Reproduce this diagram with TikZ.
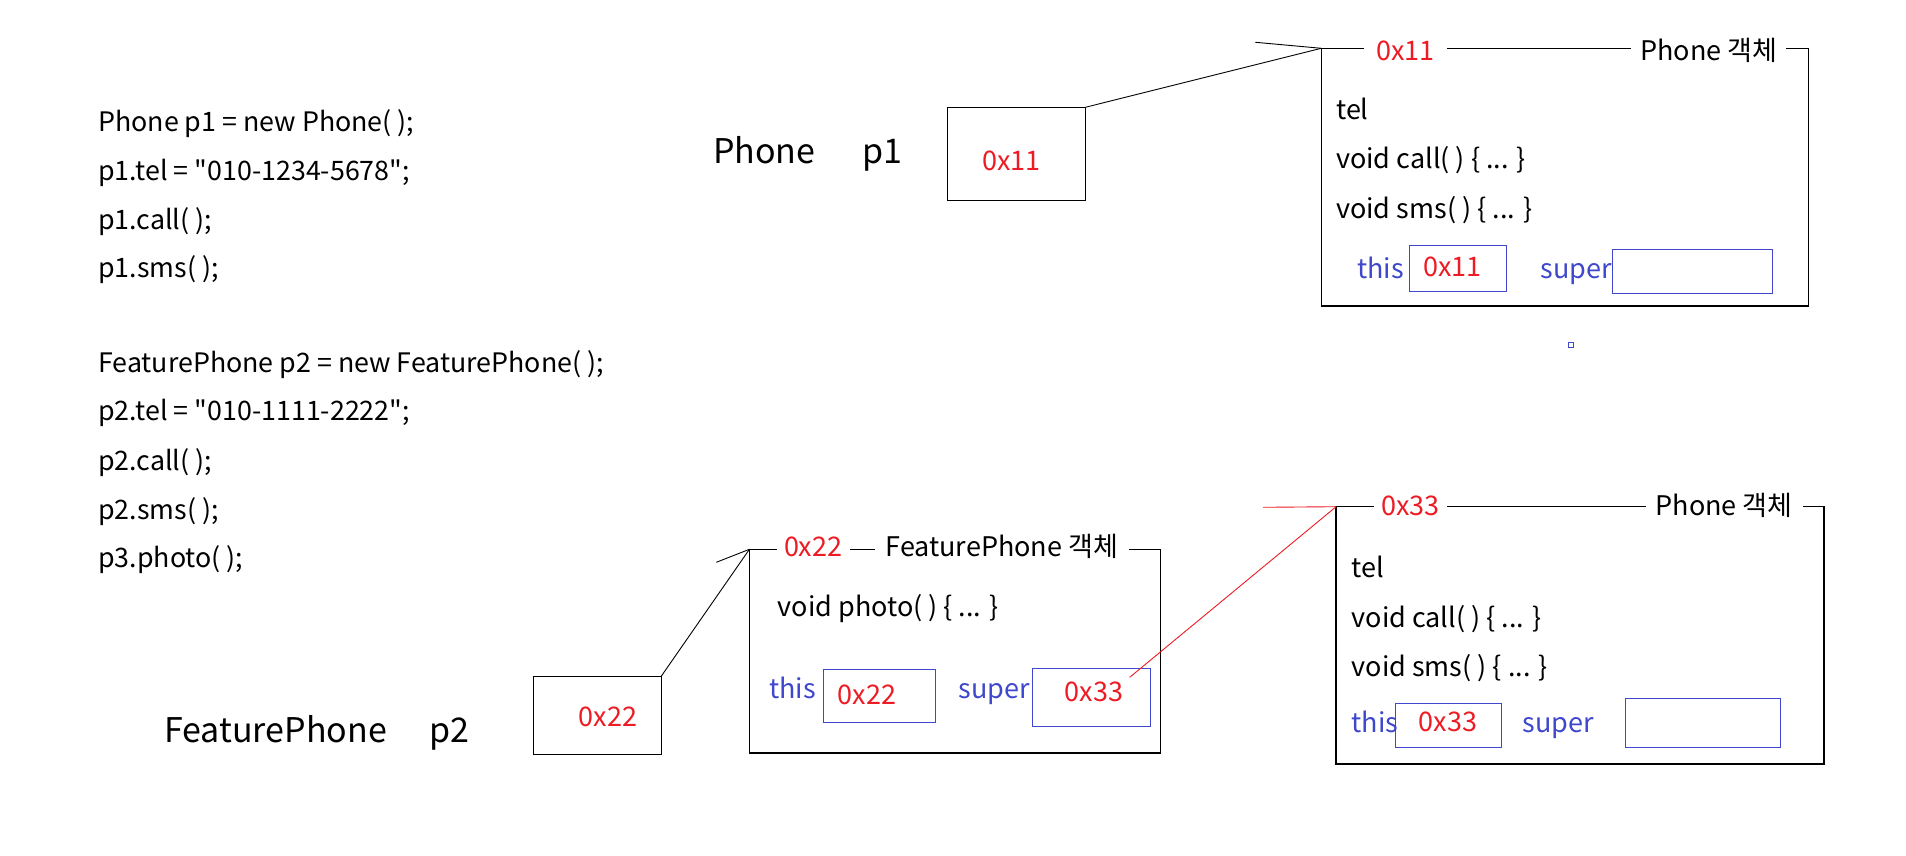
\documentclass[tikz,border=0pt]{standalone}
\usepackage{fontspec}
\setmainfont{Noto Sans CJK KR}[Ligatures=TeXOff]
\definecolor{pred}{HTML}{ED1C24}
\definecolor{pblue}{HTML}{3F48CC}
\begin{document}
\begin{tikzpicture}[x=1pt,y=-1pt,
 txt/.style={inner sep=0pt, anchor=base west, font=\fontsize{27}{32}\selectfont},
 codeline/.style={txt, font=\fontsize{26.8}{32}\selectfont},
 bigtxt/.style={txt, font=\fontsize{34}{40}\selectfont},
 addr/.style={txt, text=pred},
 kw/.style={txt, text=pblue},
 cell/.style={draw, line width=1pt, anchor=north west, inner sep=0pt, outer sep=0pt},
 objbox/.style={cell, line width=1.3pt},
 slot/.style={cell, draw=pblue},
 objtitle/.style={txt, fill=white, inner ysep=3pt},
 connector/.style={line width=0.9pt},
]
\useasboundingbox[fill=white] (0,0) rectangle (1906,856);

% code
\node[codeline] (c1) at (98,131.7) {Phone p1 = new Phone( );};
\node[codeline] (c2) at (98,180) {p1.tel = "010-1234-5678";};
\node[codeline] (c3) at (98,229) {p1.call( );};
\node[codeline] (c4) at (98,277) {p1.sms( );};
\node[codeline] (c5) at (98,372.7) {FeaturePhone p2 = new FeaturePhone( );};
\node[codeline] (c6) at (98,420.7) {p2.tel = "010-1111-2222";};
\node[codeline] (c7) at (98,470.7) {p2.call( );};
\node[codeline] (c8) at (98,519.3) {p2.sms( );};
\node[codeline] (c9) at (98,567) {p3.photo( );};

% variables
\node[bigtxt] (t1) at (713,163.3) {Phone};
\node[bigtxt] (v1) at (862,163.3) {p1};
\node[cell, minimum width=138pt, minimum height=93pt] (p1box) at (947.4,107.3) {};
\node[addr] (p1val) at (982,170) {0x11};

\node[bigtxt] (t2) at (164,742.7) {FeaturePhone};
\node[bigtxt] (v2) at (429,742.7) {p2};
\node[cell, minimum width=127.3pt, minimum height=77.7pt] (p2box) at (533.9,676.3) {};
\node[addr] (p2val) at (578.6,726.7) {0x22};

% Phone object 1
\node[objbox, minimum width=487.3pt, minimum height=257.7pt] (obj1) at (1321.3,48.3) {};
\node[objtitle, text=pred, inner xsep=12pt] (obj1a) at (1363.9,60.7) {0x11};
\node[objtitle, inner xsep=9pt] (obj1n) at (1631.2,60.7) {Phone 객체};
\node[txt] (obj1f1) at (1336,119.3) {tel};
\node[txt] (obj1f2) at (1336,168.3) {void call( ) \{ ... \}};
\node[txt] (obj1f3) at (1336,218.3) {void sms( ) \{ ... \}};
\node[kw] (obj1this) at (1357,278.3) {this};
\node[slot, minimum width=96.8pt, minimum height=46pt] (this1) at (1409.4,245.3) {};
\node[addr] (this1v) at (1423,276) {0x11};
\node[kw] (obj1super) at (1540.7,278.3) {super};
\node[slot, minimum width=160.3pt, minimum height=44pt] (super1) at (1612,249.3) {};
\node[slot, line width=0.8pt, minimum width=5pt, minimum height=5pt] (dot) at (1568.5,342.5) {};

% FeaturePhone object
\node[objbox, minimum width=411.2pt, minimum height=203.7pt] (fpobj) at (749.4,549.3) {};
\node[objtitle, text=pred, inner xsep=7.5pt] (fpa) at (776.3,556.7) {0x22};
\node[objtitle, inner xsep=11pt] (fpn) at (874.3,556.7) {FeaturePhone 객체};
\node[txt] (fpf1) at (777.6,616.7) {void photo( ) \{ ... \}};
\node[kw] (fpthis) at (769,698.3) {this};
\node[slot, minimum width=112pt, minimum height=53pt] (this2) at (823.5,669.3) {};
\node[addr] (this2v) at (837.6,704) {0x22};
\node[kw] (fpsuper) at (958.5,698.3) {super};
\node[slot, minimum width=117.6pt, minimum height=58pt] (super2) at (1032.4,668.3) {};
\node[addr] (super2v) at (1064.4,701.7) {0x33};

% Phone object 2
\node[objbox, minimum width=487.9pt, minimum height=257.3pt] (obj3) at (1336.1,506.7) {};
\node[objtitle, text=pred, inner xsep=7.5pt] (obj3a) at (1373.4,515) {0x33};
\node[objtitle, inner xsep=10pt] (obj3n) at (1645.4,515) {Phone 객체};
\node[txt] (obj3f1) at (1351.5,577.3) {tel};
\node[txt] (obj3f2) at (1351.5,627.3) {void call( ) \{ ... \}};
\node[txt] (obj3f3) at (1351.5,676.7) {void sms( ) \{ ... \}};
\node[kw] (obj3this) at (1351.5,732.7) {this};
\node[slot, minimum width=105.3pt, minimum height=44pt] (this3) at (1395.9,703.3) {};
\node[addr] (this3v) at (1418.7,731.7) {0x33};
\node[kw] (obj3super) at (1522.2,732.7) {super};
\node[slot, minimum width=154.6pt, minimum height=49pt] (super3) at (1625.7,698.3) {};

% connectors
\coordinate (tick1) at (1255.4,42.3);
\draw[connector] (p1box.north east) -- (obj1.north west);
\draw[connector] (tick1) -- (obj1.north west);
\coordinate (tick2) at (716.3,562.3);
\draw[connector] (p2box.north east) -- (fpobj.north west);
\draw[connector] (tick2) -- (fpobj.north west);
\coordinate (redstart) at (1129.7,677.3);
\draw[connector, pred] (redstart) -- (obj3.north west);
\coordinate (tick3) at (1263.4,507.3);
\draw[connector, pred] (tick3) -- (obj3.north west);
\end{tikzpicture}
\end{document}
